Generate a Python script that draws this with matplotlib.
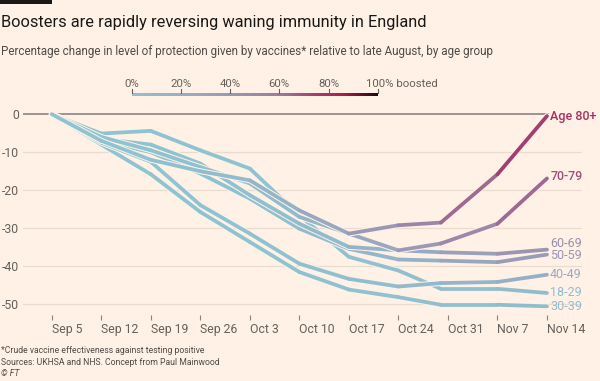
import numpy as np
import pandas as pd
import matplotlib

matplotlib.use("Agg")
import matplotlib.pyplot as plt
import matplotlib.dates as mdates
import matplotlib.patheffects as pe
from matplotlib.collections import LineCollection
from matplotlib.colors import LinearSegmentedColormap

plt.rcParams["font.family"] = ["Roboto", "DejaVu Sans"]

BG = "#fff1e5"
W, H = 600, 381

# --- data ---
dates = pd.to_datetime(["2021-09-05", "2021-09-12", "2021-09-19", "2021-09-26",
                        "2021-10-03", "2021-10-10", "2021-10-17", "2021-10-24",
                        "2021-10-30", "2021-11-07", "2021-11-14"])
tick_dates = pd.date_range("2021-09-05", "2021-11-14", freq="7D")
yticks = [0, -10, -20, -30, -40, -50]

ages = ["18-29", "30-39", "40-49", "50-59", "60-69", "70-79", "Age 80+"]
change_18 = [0, -5.1, -4.4, -9.5, -14.3, -26.6, -37.5, -41.1, -45.9, -45.9, -47.0]
change_30 = [0, -8.0, -15.8, -25.7, -33.6, -41.5, -46.1, -48.1, -50.1, -50.1, -50.5]
change_40 = [0, -7.5, -12.5, -23.9, -31.4, -39.3, -43.3, -45.3, -44.4, -44.1, -42.2]
change_50 = [0, -7.0, -10.0, -15.6, -22.2, -30.1, -35.4, -38.2, -38.5, -38.9, -36.9]
change_60 = [0, -6.5, -8.0, -13.0, -21.3, -28.8, -34.9, -35.8, -36.3, -36.7, -35.6]
change_70 = [0, -6.0, -9.5, -13.9, -18.2, -27.0, -31.4, -35.8, -34.0, -28.8, -16.9]
change_80 = [0, -7.0, -12.0, -15.0, -17.4, -25.3, -31.4, -29.2, -28.5, -15.8, -0.5]

# share boosted (0-1), drives the line colour
boost_18 = [0, 0, 0, 0, 0, 0.01, 0.02, 0.03, 0.04, 0.05, 0.07]
boost_30 = [0, 0, 0, 0, 0, 0.01, 0.02, 0.03, 0.04, 0.06, 0.08]
boost_40 = [0, 0, 0, 0, 0.01, 0.02, 0.04, 0.07, 0.11, 0.17, 0.24]
boost_50 = [0, 0, 0, 0.01, 0.02, 0.05, 0.10, 0.16, 0.23, 0.33, 0.42]
boost_60 = [0, 0, 0, 0.01, 0.03, 0.07, 0.13, 0.20, 0.28, 0.38, 0.47]
boost_70 = [0, 0, 0, 0.02, 0.05, 0.11, 0.21, 0.33, 0.45, 0.58, 0.70]
boost_80 = [0, 0, 0.01, 0.05, 0.11, 0.21, 0.33, 0.47, 0.58, 0.70, 0.80]

changes = [change_18, change_30, change_40, change_50, change_60, change_70, change_80]
boosts = [boost_18, boost_30, boost_40, boost_50, boost_60, boost_70, boost_80]
label_nudge = [0, 0, 0, -0.2, 1.6, 0.4, 0]

cmap = LinearSegmentedColormap.from_list("boost", [
    (0.0, "#8ec3d2"), (0.2, "#95b0c6"), (0.4, "#9a98b5"), (0.6, "#9d7b9e"),
    (0.72, "#9e4a7a"), (0.86, "#ac1d4e"), (1.0, "#1a0a0e")])

fig = plt.figure(figsize=(W / 100, H / 100), dpi=100, facecolor=BG)

# titles
fig.text(1 / W, 1 - 22 / H, "Boosters are rapidly reversing waning immunity in England",
         fontsize=11.8, color="#1a1817", va="center", ha="left")
fig.text(1 / W, 1 - 51 / H,
         "Percentage change in level of protection given by vaccines* relative to late August, by age group",
         fontsize=8.4, color="#4f4a47", va="center", ha="left")
fig.patches.append(plt.Rectangle((0, 1 - 3.5 / H), 52 / W, 3.5 / H, transform=fig.transFigure,
                                 facecolor="#1a1817", edgecolor="none"))

# colour legend
cax = fig.add_axes([131.7 / W, 1 - 96 / H, 246 / W, 3 / H])
cax.imshow(np.linspace(0, 1, 256)[None, :], aspect="auto", cmap=cmap, extent=[0, 1, 0, 1])
for v in np.arange(0, 1.01, 0.2):
    cax.plot([v, v], [1, 2.2], color="#66605c", lw=0.8, clip_on=False)
    if v > 0.99:
        cax.text(v - 0.046, 4.0, "100% boosted", fontsize=8.2, color="#66605c",
                 ha="left", va="center")
    else:
        cax.text(v, 4.0, f"{v * 100:.0f}%", fontsize=8.2, color="#66605c",
                 ha="center", va="center")
cax.set_xlim(0, 1)
cax.set_ylim(0, 1)
cax.set_axis_off()

# main axes
ax = fig.add_axes([23 / W, 1 - 320 / H, 559 / W, 215 / H])
ax.set_facecolor(BG)
x = mdates.date2num(dates)
x0 = mdates.date2num(pd.Timestamp("2021-09-05"))
x1 = mdates.date2num(pd.Timestamp("2021-11-14"))
ax.set_xlim(x0 - 4.06, x1 + 4.95)
ax.set_ylim(-54.1, 2.4)

for s in ax.spines.values():
    s.set_visible(False)
for yv in yticks:
    ax.axhline(yv, color="#9c948f" if yv == 0 else "#eadbcf",
               lw=1.4 if yv == 0 else 0.9, zorder=1)
ax.set_yticks(yticks)
ax.set_yticklabels([str(v) for v in yticks])
ax.tick_params(axis="y", length=0, pad=3, labelsize=8.8, labelcolor="#66605c")
ax.set_xticks(mdates.date2num(tick_dates))
ax.set_xticklabels([d.strftime("%b %-d") for d in tick_dates], ha="left")
ax.tick_params(axis="x", direction="in", length=3.5, width=0.8, color="#8a827d",
               pad=2.5, labelsize=8.8, labelcolor="#66605c")

for i, (age, ch, bs) in enumerate(zip(ages, changes, boosts)):
    pts = np.column_stack([x, ch])
    segs = np.stack([pts[:-1], pts[1:]], axis=1)
    b = np.asarray(bs)
    seg_col = cmap((b[:-1] + b[1:]) / 2)
    lc = LineCollection(segs, colors=seg_col, linewidths=2.7, capstyle="round",
                        joinstyle="round", zorder=3 + i,
                        path_effects=[pe.Stroke(linewidth=4.2, foreground=BG), pe.Normal()])
    ax.add_collection(lc)
    end_col = cmap(b[-1])
    weight = "medium" if i >= 5 else "normal"
    ax.text(x1 + 0.45, ch[-1] + label_nudge[i], age, color=end_col, fontsize=9.0,
            fontweight=weight, ha="left", va="center", zorder=20,
            bbox=dict(facecolor=BG, edgecolor="none", pad=0.6) if i == 6 else None)

# footnotes
foot = ["*Crude vaccine effectiveness against testing positive",
        "Sources: UKHSA and NHS. Concept from Paul Mainwood"]
fig.text(1 / W, 1 - 350.5 / H, foot[0], fontsize=6.2, color="#4f4a47", va="center")
fig.text(1 / W, 1 - 362.3 / H, foot[1], fontsize=6.2, color="#4f4a47", va="center")
fig.text(1 / W, 1 - 374 / H, "© FT", fontsize=6.2, color="#4f4a47", va="center",
         style="italic")

fig.savefig("out.png", dpi=100, facecolor=BG)
